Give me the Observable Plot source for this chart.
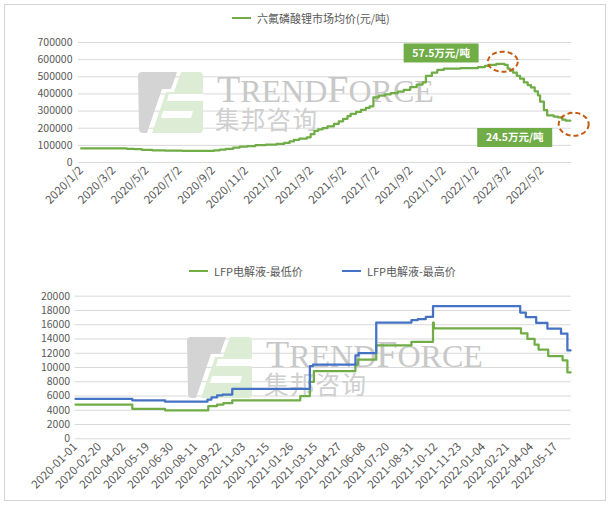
<!DOCTYPE html>
<html><head><meta charset="utf-8">
<script src="https://cdn.jsdelivr.net/npm/d3@7"></script>
<script src="https://cdn.jsdelivr.net/npm/@observablehq/plot@0.6"></script>
<style>
body{margin:0;background:#fff;font-family:'Noto Sans CJK SC','Noto Sans',sans-serif;}
#wrap{position:relative;width:613px;height:507px;overflow:hidden;background:#fff;}
#frame{position:absolute;left:4px;top:4px;width:602px;height:497px;border:1.5px solid #d4d4d4;box-sizing:border-box;}
.legend{position:absolute;font-size:11px;line-height:14px;color:#595959;display:flex;align-items:center;white-space:nowrap;}
.sw{display:inline-block;width:19px;height:2.5px;margin-right:6px;}
.chart{position:absolute;left:0;}
</style></head><body><div id="wrap"><div id="frame"></div></div>
<script>
// ---------- Chart 1: 六氟磷酸锂市场均价 ----------
const lipf6Title = "六氟磷酸锂市场均价(元/吨)";
const lipf6Dates = ["2020-01-02","2020-03-26","2020-04-09","2020-04-23","2020-05-12","2020-06-05","2020-07-06","2020-08-26","2020-09-04","2020-09-14","2020-09-25","2020-10-09","2020-10-21","2020-11-04","2020-11-19","2020-12-08","2020-12-28","2021-01-11","2021-01-21","2021-01-29","2021-02-08","2021-02-22","2021-03-01","2021-03-08","2021-03-15","2021-03-23","2021-04-01","2021-04-13","2021-04-22","2021-04-30","2021-05-08","2021-05-14","2021-05-24","2021-06-02","2021-06-11","2021-06-18","2021-06-25","2021-07-05","2021-07-16","2021-07-27","2021-08-09","2021-08-20","2021-09-01","2021-09-13","2021-09-24","2021-09-30","2021-10-11","2021-10-21","2021-11-02","2021-12-03","2022-01-04","2022-01-17","2022-01-24","2022-02-07","2022-02-22","2022-02-28","2022-03-04","2022-03-10","2022-03-17","2022-03-23","2022-03-30","2022-04-06","2022-04-12","2022-04-19","2022-04-25","2022-04-29","2022-05-06","2022-05-12","2022-05-24","2022-06-01","2022-06-09","2022-06-15","2022-06-24"];
const lipf6Values = [82000,80000,78000,74000,71000,69000,68000,68000,71000,75000,80000,87000,92000,96000,101000,104000,108000,114000,123000,132000,140000,147000,165000,185000,193000,200000,211000,226000,240000,255000,270000,284000,295000,307000,318000,328000,380000,390000,397000,404000,413000,424000,440000,455000,468000,505000,525000,540000,548000,550000,557000,563000,570000,575000,570000,548000,536000,524000,506000,489000,467000,452000,438000,415000,392000,355000,305000,275000,268000,263000,250000,245000,245000];
const topTickLabels = ["2020/1/2","2020/3/2","2020/5/2","2020/7/2","2020/9/2","2020/11/2","2021/1/2","2021/3/2","2021/5/2","2021/7/2","2021/9/2","2021/11/2","2022/1/2","2022/3/2","2022/5/2"];
const topYTicks = [0,100000,200000,300000,400000,500000,600000,700000];
const calloutLabels = ["57.5万元/吨","24.5万元/吨"];
const calloutDates = ["2021-10-29","2022-03-14"];
const calloutValues = [636000,143000];
const ringDates = ["2022-02-20","2022-07-01"];
const ringValues = [585000,220000];

// ---------- Chart 2: LFP电解液 ----------
const lowName = "LFP电解液-最低价";
const highName = "LFP电解液-最高价";
const elecTickLabels = ["2020-01-01","2020-02-20","2020-04-02","2020-05-19","2020-06-30","2020-08-11","2020-09-22","2020-11-03","2020-12-15","2021-01-26","2021-03-15","2021-04-27","2021-06-08","2021-07-20","2021-08-31","2021-10-12","2021-11-23","2022-01-04","2022-02-21","2022-04-04","2022-05-17"];
const lowIdx  = [0,71,112,166,177,185,196,281,293,298,350,353,376,420,447,448,557,565,574,579,591,609,615,619];
const lowVals = [4800,4200,4000,4600,4800,5000,5400,6000,8000,9500,10400,11100,13100,13600,16300,15500,14800,14000,13200,12500,11600,11000,9300,9300];
const highIdx  = [0,71,112,165,170,177,184,196,293,297,350,354,376,420,428,438,447,556,563,576,590,607,615,619];
const highVals = [5600,5400,5200,5500,5800,6100,6200,7000,10200,10400,11700,12000,16300,16650,16800,17100,18600,17700,17050,16250,15450,14750,12400,12400];
const bottomYTicks = [0,2000,4000,6000,8000,10000,12000,14000,16000,18000,20000];

// ---------- helpers ----------
const GREEN = "#70AD47", BLUE = "#4472C4";
const parseSlash = s => { const [y,m,d] = s.split("/").map(Number); return new Date(Date.UTC(y, m-1, d)); };
const lipf6 = lipf6Dates.map((d,i) => ({date: new Date(d), value: lipf6Values[i]}));
const topTickDates = topTickLabels.map(parseSlash);
const topLabelMap = new Map(topTickDates.map((d,i) => [+d, topTickLabels[i]]));
const lowData = lowIdx.map((x,i) => ({i: x, v: lowVals[i]}));
const highData = highIdx.map((x,i) => ({i: x, v: highVals[i]}));

const baseStyle = {fontFamily: "'Noto Sans CJK SC','Noto Sans',sans-serif", fontSize: "10.5px", color: "#595959", background: "transparent", overflow: "visible"};

function watermark(ox, oy) {
  return () => {
    const g = d3.create("svg:g").attr("transform", `translate(${ox},${oy})`).attr("pointer-events","none").attr("text-anchor","start");
    g.append("path").attr("d","M0,4 Q0,0 4,0 H39 L33,17 H24 L9,61 H5 Q1,61 1,57 Z").attr("fill","#d4d4d4");
    g.append("path").attr("d","M43,0 H61 Q65,0 65,4 V57 Q65,61 61,61 H14 L28,20 H36 Z").attr("fill","#ddecd4");
    g.append("path").attr("d","M31,22 H65 V29 H29 Z").attr("fill","#fff");
    g.append("path").attr("d","M25,39 H55 L53,46 H23 Z").attr("fill","#fff");
    // one text element holding both watermark lines
    const t = g.append("text").attr("x",79).attr("y",30).attr("fill","#c8c8c8").style("font-family","'Liberation Serif','DejaVu Serif',serif");
    [["T",38],["REND",32],["F",38],["ORCE",32]].forEach(([s,fs]) => t.append("tspan").attr("font-size",fs).text(s));
    t.append("tspan").attr("x",77).attr("y",57).attr("fill","#cfcfcf").attr("font-size",24.5).attr("letter-spacing",1.3)
      .style("font-family","'Noto Sans CJK SC',sans-serif").text("集邦咨询");
    return g.node();
  };
}

function callouts(index, {x, y}) {
  const g = d3.create("svg:g");
  calloutLabels.forEach((t, i) => {
    const cx = x(new Date(calloutDates[i])), cy = y(calloutValues[i]);
    const w = 75, h = 19;
    g.append("rect").attr("x", cx - w/2).attr("y", cy - h/2).attr("width", w).attr("height", h).attr("fill", GREEN);
    g.append("text").attr("x", cx).attr("y", cy).attr("dy","0.36em").attr("text-anchor","middle").attr("fill","#fff").attr("font-size",10.5).attr("font-weight",600).text(t);
  });
  return g.node();
}

function rings(index, {x, y}) {
  const g = d3.create("svg:g");
  ringDates.forEach((d, i) => {
    g.append("ellipse").attr("cx", x(new Date(d))).attr("cy", y(ringValues[i])).attr("rx", 15).attr("ry", i === 0 ? 10 : 11.5)
      .attr("fill","none").attr("stroke","#C55A11").attr("stroke-width",2).attr("stroke-dasharray","5,3");
  });
  return g.node();
}

const wrap = document.getElementById("wrap");

function legend(items, top) {
  items.forEach(([name, color, left]) => {
    const div = document.createElement("div");
    div.className = "legend";
    div.style.left = left + "px";
    div.style.top = top + "px";
    div.innerHTML = `<span class="sw" style="background:${color}"></span><span>${name}</span>`;
    wrap.appendChild(div);
  });
}

// ---------- top chart ----------
legend([[lipf6Title, GREEN, 232]], 11);
const topPlot = Plot.plot({
  width: 613, height: 190,
  marginTop: 12, marginBottom: 58, marginLeft: 78, marginRight: 42,
  style: baseStyle,
  x: {type: "utc", domain: [new Date("2019-12-28"), new Date("2022-06-26")], label: null},
  y: {domain: [0, 700000], label: null},
  marks: [
    Plot.gridY(topYTicks, {stroke: "#d9d9d9", strokeOpacity: 1}),
    watermark(138, 42),
    Plot.axisY(topYTicks, {tickSize: 0, tickPadding: 6, tickFormat: d => String(d), label: null}),
    Plot.axisX(topTickDates, {tickSize: 0, tickPadding: 6, tickRotate: -45, fontSize: 11.5, tickFormat: d => topLabelMap.get(+d), label: null}),
    Plot.line(lipf6, {x: "date", y: "value", curve: "step-after", stroke: GREEN, strokeWidth: 2.25}),
    callouts,
    rings
  ]
});
topPlot.classList.add("chart");
topPlot.style.top = "30px";
wrap.appendChild(topPlot);

// ---------- bottom chart ----------
legend([[lowName, GREEN, 189], [highName, BLUE, 342]], 264);
const bottomPlot = Plot.plot({
  width: 613, height: 220,
  marginTop: 10.7, marginBottom: 66.7, marginLeft: 74.6, marginRight: 42.5,
  style: baseStyle,
  x: {type: "linear", domain: [-0.5, 619.5], label: null},
  y: {domain: [0, 20000], label: null},
  marks: [
    Plot.gridY(bottomYTicks, {stroke: "#d9d9d9", strokeOpacity: 1}),
    watermark(187, 52),
    Plot.axisY(bottomYTicks, {tickSize: 0, tickPadding: 5, tickFormat: d => String(d), label: null}),
    Plot.axisX(elecTickLabels.map((_, k) => k * 30), {tickSize: 0, tickPadding: 6, tickRotate: -45, fontSize: 11.5, tickFormat: d => elecTickLabels[Math.round(d / 30)], label: null}),
    Plot.line(lowData, {x: "i", y: "v", curve: "step-after", stroke: GREEN, strokeWidth: 2.25}),
    Plot.line(highData, {x: "i", y: "v", curve: "step-after", stroke: BLUE, strokeWidth: 2.25})
  ]
});
bottomPlot.classList.add("chart");
bottomPlot.style.top = "285px";
wrap.appendChild(bottomPlot);
</script></body></html>
